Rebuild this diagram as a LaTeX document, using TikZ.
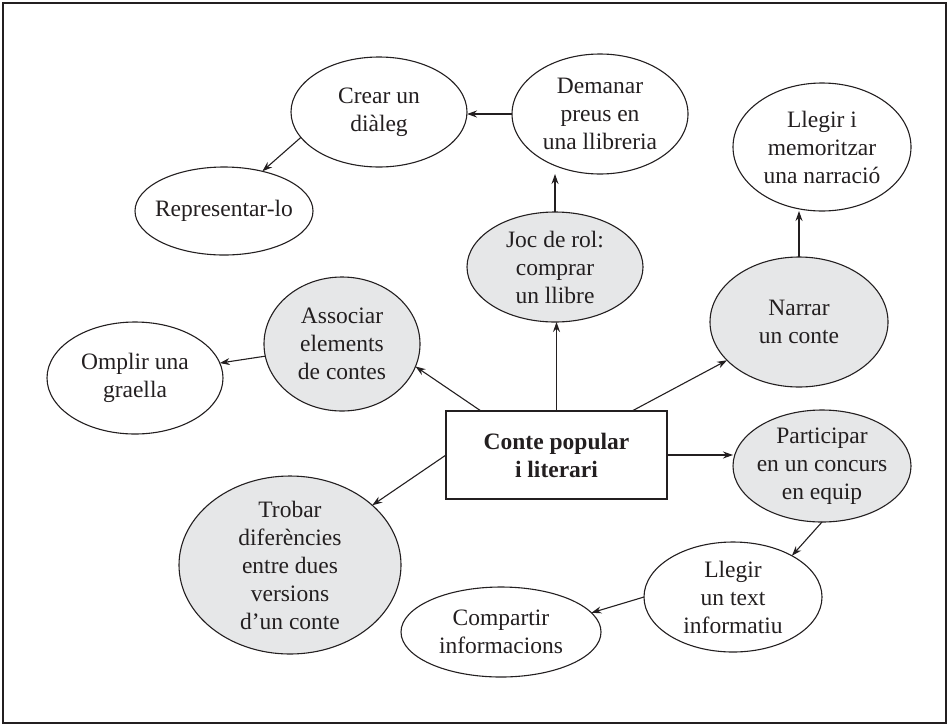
\documentclass[tikz,border=0pt]{standalone}
\usepackage{fontspec}
\setmainfont{Liberation Serif}
\usetikzlibrary{shapes.geometric,arrows.meta,calc}
\definecolor{ink}{HTML}{231F20}
\definecolor{fillgray}{HTML}{E6E7E8}
\begin{document}
\begin{tikzpicture}[x=1pt,y=-1pt,
  oval/.style={ellipse, draw=ink, line width=1.1pt, inner sep=0pt, outer sep=0pt, fill=white},
  grayoval/.style={oval, fill=fillgray},
  txt/.style={align=center, text=ink, font=\fontsize{23.5}{28}\selectfont, inner sep=0pt},
  arr/.style={-{Stealth[length=10pt,width=7pt]}, draw=ink, line width=1.1pt}
]
\useasboundingbox (0,0) rectangle (949,726);
\draw[ink, line width=1.2pt] (3,3) rectangle (946,723);

% ovals
\node[oval, minimum width=176, minimum height=110] (crear) at (379,112) {};
\node[txt] at (crear) {Crear un\\diàleg};
\node[oval, minimum width=176, minimum height=120] (demanar) at (600,114) {};
\node[txt] at (demanar) {Demanar\\preus en\\una llibreria};
\node[oval, minimum width=178, minimum height=128] (memor) at (822,147) {};
\node[txt] at (memor) {Llegir i\\memoritzar\\una narració};
\node[oval, minimum width=178, minimum height=88] (repres) at (224,211) {};
\node[txt] at (repres) {Representar-lo};
\node[grayoval, minimum width=176, minimum height=110] (joc) at (555,267) {};
\node[txt] at (joc) {Joc de rol:\\comprar\\un llibre};
\node[grayoval, minimum width=178, minimum height=130] (narrar) at (799,322) {};
\node[txt] at (narrar) {Narrar\\un conte};
\node[grayoval, minimum width=156, minimum height=134] (assoc) at (342,344) {};
\node[txt] at (assoc) {Associar\\elements\\de contes};
\node[oval, minimum width=176, minimum height=112] (omplir) at (135,378) {};
\node[txt] at (omplir) {Omplir una\\graella};
\node[draw=ink, line width=1.1pt, minimum width=221, minimum height=88, inner sep=0pt, outer sep=0pt,
      align=center, text=ink, font=\fontsize{23.5}{28}\selectfont\bfseries] (box) at (556.5,455) {Conte popular\\i literari};
\node[grayoval, minimum width=178, minimum height=112] (part) at (822,466) {};
\node[txt] at (part) {Participar\\en un concurs\\en equip};
\node[grayoval, minimum width=222, minimum height=178] (trobar) at (290,565) {};
\node[txt] at (trobar) {Trobar\\diferències\\entre dues\\versions\\d’un conte};
\node[oval, minimum width=178, minimum height=110] (llegir) at (733,597) {};
\node[txt] at (llegir) {Llegir\\un text\\informatiu};
\node[oval, minimum width=200, minimum height=90] (comp) at (501,632) {};
\node[txt] at (comp) {Compartir\\informacions};

\coordinate (bA) at ($(box.north west)+(35,0)$);
\coordinate (bN) at ($(box.north west)+(186,0)$);

% connectors
\draw[arr] (demanar.west) -- (demanar.west -| crear.east);
\draw[arr] (crear.198) -- (repres.46);
\draw[arr] (joc.north) -- (joc.north |- demanar.south);
\draw[arr] (box.north) -- (box.north |- joc.south);
\draw[arr] (narrar.north) -- (memor.south -| narrar.north);
\draw[arr] (bN) -- (narrar.208);
\draw[arr] (bA) -- (assoc.343);
\draw[arr] (assoc.189) -- (omplir.10);
\draw[arr] (box.west) -- (trobar.36);
\draw[arr] (box.east) -- (box.east -| part.west);
\draw[arr] (part.south) -- (llegir.35);
\draw[arr] (llegir.west) -- (comp.12);
\end{tikzpicture}
\end{document}
